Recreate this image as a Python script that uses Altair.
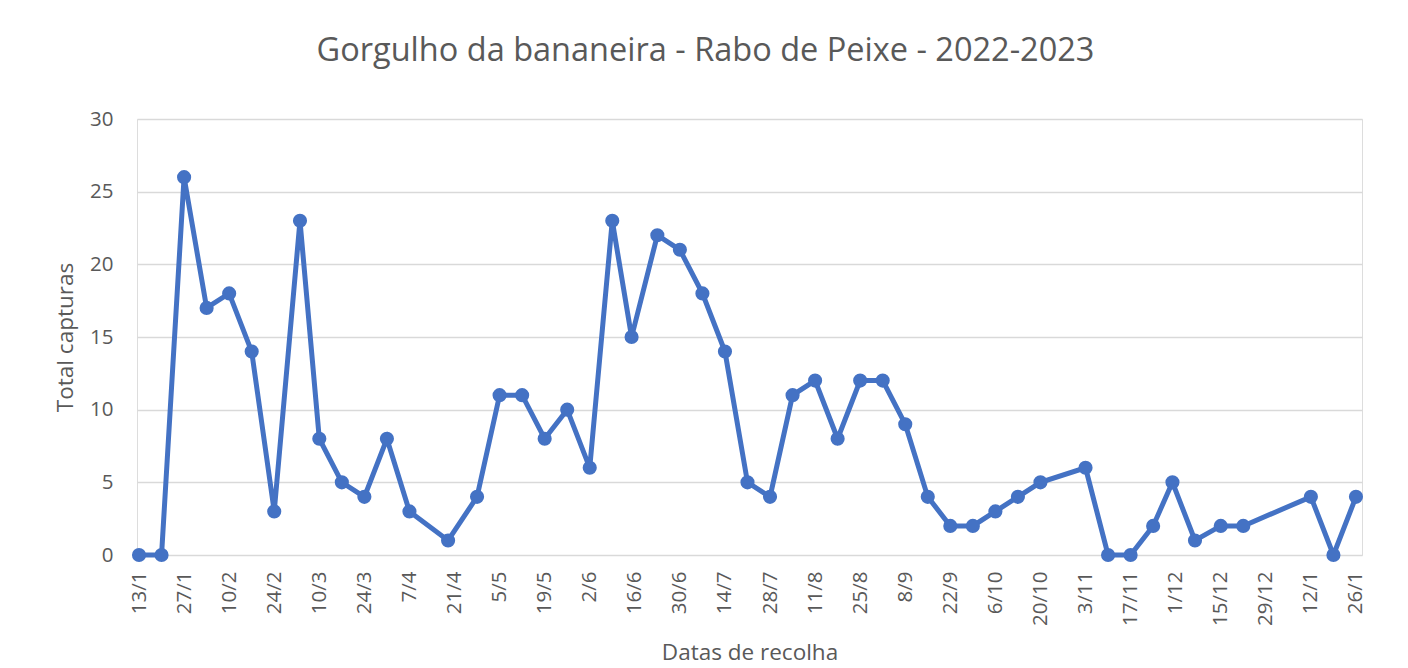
import altair as alt
import pandas as pd

# Collection dates (2022-2023) and total captures
dates = [
    "2022-01-13", "2022-01-20", "2022-01-27", "2022-02-03", "2022-02-10", "2022-02-17",
    "2022-02-24", "2022-03-04", "2022-03-10", "2022-03-17", "2022-03-24", "2022-03-31",
    "2022-04-07", "2022-04-19", "2022-04-28", "2022-05-05", "2022-05-12", "2022-05-19",
    "2022-05-26", "2022-06-02", "2022-06-09", "2022-06-15", "2022-06-23", "2022-06-30",
    "2022-07-07", "2022-07-14", "2022-07-21", "2022-07-28", "2022-08-04", "2022-08-11",
    "2022-08-18", "2022-08-25", "2022-09-01", "2022-09-08", "2022-09-15", "2022-09-22",
    "2022-09-29", "2022-10-06", "2022-10-13", "2022-10-20", "2022-11-03", "2022-11-10",
    "2022-11-17", "2022-11-24", "2022-11-30", "2022-12-07", "2022-12-15", "2022-12-22",
    "2023-01-12", "2023-01-19", "2023-01-26",
]
captures = [
    0, 0, 26, 17, 18, 14, 3, 23, 8, 5, 4, 8, 3, 1, 4, 11, 11, 8, 10, 6, 23, 15, 22, 21,
    18, 14, 5, 4, 11, 12, 8, 12, 12, 9, 4, 2, 2, 3, 4, 5, 6, 0, 0, 2, 5, 1, 2, 2, 4, 0, 4,
]

# Axis tick dates (every 14 days)
tick_dates = [
    (2022, 1, 13), (2022, 1, 27), (2022, 2, 10), (2022, 2, 24), (2022, 3, 10), (2022, 3, 24),
    (2022, 4, 7), (2022, 4, 21), (2022, 5, 5), (2022, 5, 19), (2022, 6, 2), (2022, 6, 16),
    (2022, 6, 30), (2022, 7, 14), (2022, 7, 28), (2022, 8, 11), (2022, 8, 25), (2022, 9, 8),
    (2022, 9, 22), (2022, 10, 6), (2022, 10, 20), (2022, 11, 3), (2022, 11, 17), (2022, 12, 1),
    (2022, 12, 15), (2022, 12, 29), (2023, 1, 12), (2023, 1, 26),
]
y_ticks = [0, 5, 10, 15, 20, 25, 30]

df = pd.DataFrame({"data": dates, "total": captures})

FONT = "Open Sans"
TXT = "#595959"
BLUE = "#4472C4"

tick_values = [alt.DateTime(year=y, month=m, date=d, utc=True) for (y, m, d) in tick_dates]

x = alt.X(
    "data:T",
    scale=alt.Scale(
        type="utc",
        domain=[
            alt.DateTime(year=2022, month=1, date=12, hours=9, utc=True),
            alt.DateTime(year=2023, month=1, date=27, hours=21, utc=True),
        ],
        nice=False,
    ),
    axis=alt.Axis(
        title="Datas de recolha",
        values=tick_values,
        format="%-d/%-m",
        labelAngle=-90,
        labelPadding=16,
        labelFontSize=20.5,
        labelColor=TXT,
        labelFont=FONT,
        labelOverlap=False,
        titleFontSize=22.5,
        titleFont=FONT,
        titleColor=TXT,
        titleFontWeight="normal",
        titlePadding=16,
        ticks=False,
        domain=False,
        grid=False,
    ),
)
y = alt.Y(
    "total:Q",
    scale=alt.Scale(domain=[0, 30], nice=False),
    axis=alt.Axis(
        title="Total capturas",
        values=y_ticks,
        labelPadding=24,
        labelFontSize=20.5,
        labelColor=TXT,
        labelFont=FONT,
        titleFontSize=22.5,
        titleFont=FONT,
        titleColor=TXT,
        titleFontWeight="normal",
        titlePadding=12,
        ticks=False,
        domain=False,
        grid=True,
        gridColor="#D9D9D9",
        gridWidth=1.3,
    ),
)

chart = (
    alt.Chart(df)
    .mark_line(color=BLUE, strokeWidth=5, point=alt.OverlayMarkDef(color=BLUE, size=200, filled=True, opacity=1))
    .encode(x=x, y=y)
    .properties(
        width=1225,
        height=436,
        title=alt.TitleParams(
            "Gorgulho da bananeira - Rabo de Peixe - 2022-2023",
            font=FONT,
            fontSize=32.5,
            fontWeight="normal",
            color=TXT,
            anchor="middle",
            offset=42,
            dx=-44,
        ),
        autosize=alt.AutoSizeParams(type="none"),
        padding={"left": 129, "top": 111, "right": 38, "bottom": 113},
    )
    .configure_view(stroke=None)
    .configure(background="white")
)

chart.save("out.html", embed_options={"renderer": "svg", "actions": False})
